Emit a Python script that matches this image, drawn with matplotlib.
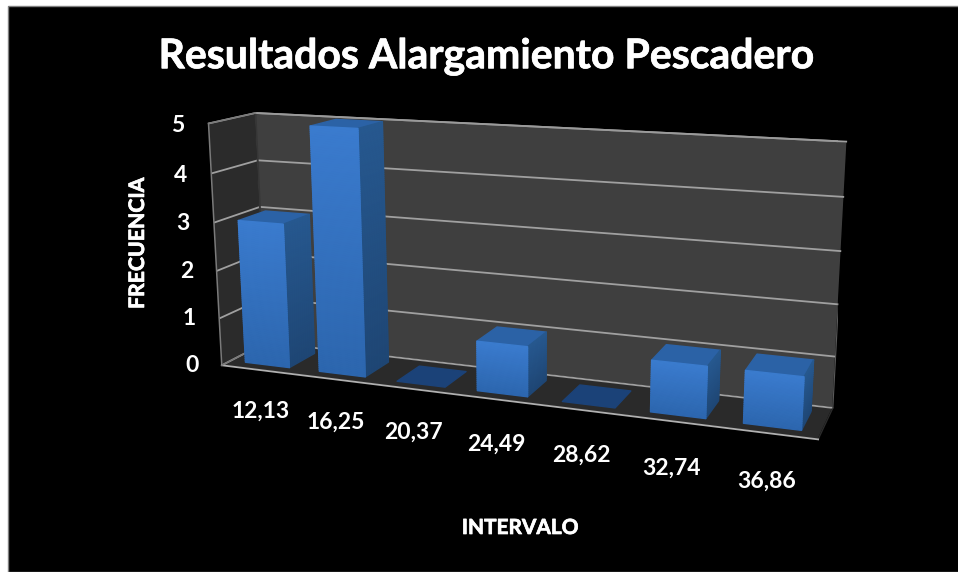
import numpy as np, matplotlib
matplotlib.use('Agg')
import matplotlib.pyplot as plt
import matplotlib.patheffects as pe
from matplotlib.patches import Rectangle
from matplotlib.colors import to_rgb
from mpl_toolkits.mplot3d import proj3d
from mpl_toolkits.mplot3d.art3d import Poly3DCollection

# data
categories = ['12,13', '16,25', '20,37', '24,49', '28,62', '32,74', '36,86']
values = [3, 5, 0, 1, 0, 1, 1]
z_ticks = [0, 1, 2, 3, 4, 5]
title = 'Resultados Alargamiento Pescadero'
x_title = 'INTERVALO'
y_title = 'FRECUENCIA'

W, H = 958, 572
FONT = 'Lato'
plt.rcParams['font.family'] = FONT
plt.rcParams['axes3d.grid'] = True
plt.rcParams['grid.color'] = '#a0a0a0'
plt.rcParams['grid.linewidth'] = 1.3

fig = plt.figure(figsize=(W / 100, H / 100), dpi=100, facecolor='white')
fig.patches.append(Rectangle((8 / W, 0), 1, (H - 6) / H, transform=fig.transFigure,
                             facecolor='black', edgecolor='#808080', linewidth=1, zorder=-5))

S = 669.84
ax = fig.add_axes([167.70 / W, -33.58 / H, S / W, S / H], projection='3d')
ax.patch.set_alpha(0)
ax.view_init(elev=13.3652, azim=-68.8672, roll=0.1973)
ax.set_proj_type('persp', focal_length=0.3779)
ax.set_box_aspect((1, 0.1443, 0.4117))

n = len(values)
zmax = max(z_ticks)
ax.set_xticks([]); ax.set_yticks([])
ax.set_zticks(z_ticks)
ax.set_zticklabels([])
ax.tick_params(axis='z', length=0, colors=(0, 0, 0, 0))
ax.xaxis.set_pane_color('#2b2b2b'); ax.yaxis.set_pane_color('#3f3f3f'); ax.zaxis.set_pane_color('#2a2a2a')
for a in (ax.xaxis, ax.yaxis, ax.zaxis):
    a.pane.set_edgecolor((0, 0, 0, 0))
    a.line.set_color((0, 0, 0, 0))

# frame edges
ax.plot([0, 0], [1, 1], [0, zmax], color='#363636', lw=1.4)
ax.plot([n, n], [0, 1], [0, 0], color='#2b2b2b', lw=1.0)
ax.plot([0, n], [1, 1], [zmax, zmax], color='#9a9a9a', lw=1.3)
ax.plot([n, n], [1, 1], [0, zmax], color='#5a5a5a', lw=0.8)
ax.plot([0, 0], [0, 1], [zmax, zmax], color='#7a7a7a', lw=1.1)
ax.plot([0, 0], [0, 0], [0, zmax], color='#7a7a7a', lw=1.1)
ax.plot([0, n], [0, 0], [0, 0], color='#b0b0b0', lw=1.3)
ax.plot([0, 0], [0, 1], [0, 0], color='#7a7a7a', lw=1.1)


def mix(c1, c2, t):
    a, b = np.array(to_rgb(c1)), np.array(to_rgb(c2))
    return tuple(a + (b - a) * t)


bw, bd = 0.60, 0.60
x0s = np.arange(n) + (1 - bw) / 2
y0, y1 = (1 - bd) / 2, (1 + bd) / 2
for x0, v in zip(x0s, values):
    x1 = x0 + bw
    faces, cols = [], []
    if v > 0:
        steps = max(12, int(v * 24))
        zs = np.linspace(0, v, steps + 1)
        for k in range(steps):
            a, b = zs[k], zs[k + 1]
            t = (k + .5) / steps
            faces.append([(x1, y0, a), (x1, y1, a), (x1, y1, b), (x1, y0, b)])
            cols.append(mix('#1e4674', '#26588f', t))
            faces.append([(x0, y0, a), (x1, y0, a), (x1, y0, b), (x0, y0, b)])
            cols.append(mix('#2c66ae', '#3a7bce', t))
        faces.append([(x0, y0, v), (x1, y0, v), (x1, y1, v), (x0, y1, v)])
        cols.append(to_rgb('#2b62a6'))
    else:
        faces.append([(x0, y0, 0), (x1, y0, 0), (x1, y1, 0), (x0, y1, 0)])
        cols.append(to_rgb('#1b4278'))
    pc = Poly3DCollection(faces, facecolors=cols, edgecolors=cols, linewidths=1.0)
    ax.add_collection3d(pc)

ax.set_xlim(0, n); ax.set_ylim(0, 1); ax.set_zlim(0, zmax)
ax.apply_aspect()


def label3d(x, y, z, s, **kw):
    """Place a label at a 3D data position, projected to figure coordinates."""
    px, py, _ = proj3d.proj_transform(x, y, z, ax.get_proj())
    fx, fy = fig.transFigure.inverted().transform(ax.transData.transform((px, py)))
    fig.text(fx, fy, s, **kw)


thick = [pe.withStroke(linewidth=0.5, foreground='white')]
tick_style = dict(color='white', fontsize=16.5, fontweight='bold', ha='center', va='center')
for z in z_ticks:
    label3d(-0.42, 0, z - 0.08, str(z), **tick_style)
for i, c in enumerate(categories):
    label3d(i + 0.5, 0, -0.9, c, **tick_style)

fig.text(487 / W, 1 - 57 / H, title, color='white', fontsize=29.5, fontweight='bold', ha='center', va='center', path_effects=thick)
fig.text(520 / W, 1 - 528 / H, x_title, color='white', fontsize=15, fontweight='bold', ha='center', va='center', path_effects=thick)
fig.text(138 / W, 1 - 243 / H, y_title, color='white', fontsize=15.3, fontweight='bold', ha='center', va='center', rotation=90, path_effects=thick)

fig.savefig('out.png', dpi=100, facecolor='white')
